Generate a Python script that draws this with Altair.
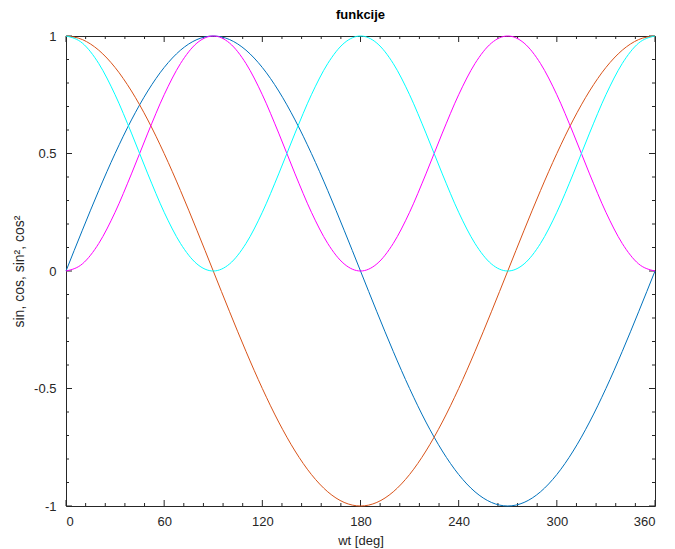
import altair as alt
import pandas as pd

deg = [0, 10, 20, 30, 40, 50, 60, 70, 80, 90, 100, 110, 120, 130, 140, 150, 160, 170, 180,
       190, 200, 210, 220, 230, 240, 250, 260, 270, 280, 290, 300, 310, 320, 330, 340, 350, 360]

sin_v = [0, .1736, .3420, .5, .6428, .7660, .8660, .9397, .9848, 1, .9848, .9397, .8660, .7660,
         .6428, .5, .3420, .1736, 0, -.1736, -.3420, -.5, -.6428, -.7660, -.8660, -.9397, -.9848,
         -1, -.9848, -.9397, -.8660, -.7660, -.6428, -.5, -.3420, -.1736, 0]
cos_v = [1, .9848, .9397, .8660, .7660, .6428, .5, .3420, .1736, 0, -.1736, -.3420, -.5, -.6428,
         -.7660, -.8660, -.9397, -.9848, -1, -.9848, -.9397, -.8660, -.7660, -.6428, -.5, -.3420,
         -.1736, 0, .1736, .3420, .5, .6428, .7660, .8660, .9397, .9848, 1]
sin2_v = [0, .0302, .1170, .25, .4132, .5868, .75, .8830, .9698, 1, .9698, .8830, .75, .5868,
          .4132, .25, .1170, .0302, 0, .0302, .1170, .25, .4132, .5868, .75, .8830, .9698, 1,
          .9698, .8830, .75, .5868, .4132, .25, .1170, .0302, 0]
cos2_v = [1, .9698, .8830, .75, .5868, .4132, .25, .1170, .0302, 0, .0302, .1170, .25, .4132,
          .5868, .75, .8830, .9698, 1, .9698, .8830, .75, .5868, .4132, .25, .1170, .0302, 0,
          .0302, .1170, .25, .4132, .5868, .75, .8830, .9698, 1]

series_names = ["sin", "cos", "sin2", "cos2"]
series_colors = ["#0072BD", "#D95319", "#FF00FF", "#00FFFF"]

x_major = [0, 60, 120, 180, 240, 300, 360]
x_minor = [12, 24, 36, 48, 72, 84, 96, 108, 132, 144, 156, 168, 192, 204, 216, 228,
           252, 264, 276, 288, 312, 324, 336, 348]
y_major = [-1, -0.5, 0, 0.5, 1]
y_minor = [-0.9, -0.8, -0.7, -0.6, -0.4, -0.3, -0.2, -0.1, 0.1, 0.2, 0.3, 0.4,
           0.6, 0.7, 0.8, 0.9]

W, H = 589, 470
AX = "#262626"
FONT = "Liberation Sans"

rows = []
for name, vals in zip(series_names, [sin_v, cos_v, sin2_v, cos2_v]):
    for i, (d, v) in enumerate(zip(deg, vals)):
        rows.append({"deg": d, "val": v, "series": name, "order": i})
df = pd.DataFrame(rows)

xscale = alt.Scale(domain=[0, 360], nice=False, zero=False)
yscale = alt.Scale(domain=[-1, 1], nice=False, zero=False)

lines = alt.Chart(df).mark_line(strokeWidth=1, interpolate="monotone").encode(
    x=alt.X("deg:Q", scale=xscale,
            axis=alt.Axis(values=x_major, title="wt [deg]", ticks=False, domain=False,
                          grid=False, labelPadding=9, titlePadding=6,
                          labelExpr="toString(datum.value)")),
    y=alt.Y("val:Q", scale=yscale,
            axis=alt.Axis(values=y_major, title="sin, cos, sin², cos²", ticks=False,
                          domain=False, grid=False, labelPadding=10, titlePadding=7,
                          titleFontSize=14, labelExpr="toString(datum.value)")),
    color=alt.Color("series:N", scale=alt.Scale(domain=series_names, range=series_colors),
                    legend=None),
    detail="series:N",
    order="order:Q",
)

xmaj = pd.DataFrame({"t": x_major})
xmin = pd.DataFrame({"t": x_minor})
ymaj = pd.DataFrame({"t": y_major})
ymin = pd.DataFrame({"t": y_minor})


def xticks(data, L):
    base = alt.Chart(data).mark_rule(color=AX, strokeWidth=1)
    bot = base.encode(x=alt.X("t:Q", scale=xscale), y=alt.value(H), y2=alt.value(H - L))
    top = base.encode(x=alt.X("t:Q", scale=xscale), y=alt.value(0), y2=alt.value(L))
    return [bot, top]


def yticks(data, L):
    base = alt.Chart(data).mark_rule(color=AX, strokeWidth=1)
    left = base.encode(y=alt.Y("t:Q", scale=yscale), x=alt.value(0), x2=alt.value(L))
    right = base.encode(y=alt.Y("t:Q", scale=yscale), x=alt.value(W), x2=alt.value(W - L))
    return [left, right]


layers = xticks(xmaj, 6) + xticks(xmin, 3) + yticks(ymaj, 6) + yticks(ymin, 3) + [lines]

chart = alt.layer(*layers).properties(
    width=W, height=H,
    title=alt.TitleParams("funkcije", fontSize=13, fontWeight="bold", font=FONT,
                          color="black", anchor="middle", offset=8),
    autosize=alt.AutoSizeParams(type="none"),
    padding={"left": 58, "top": 28, "right": 12, "bottom": 48},
).configure_view(stroke=AX, strokeWidth=1).configure_axis(
    labelFont=FONT, labelFontSize=13, labelColor=AX,
    titleFont=FONT, titleFontSize=13, titleColor=AX, titleFontWeight="normal",
)

chart.save("out.html", embed_options={"renderer": "svg", "actions": False})
